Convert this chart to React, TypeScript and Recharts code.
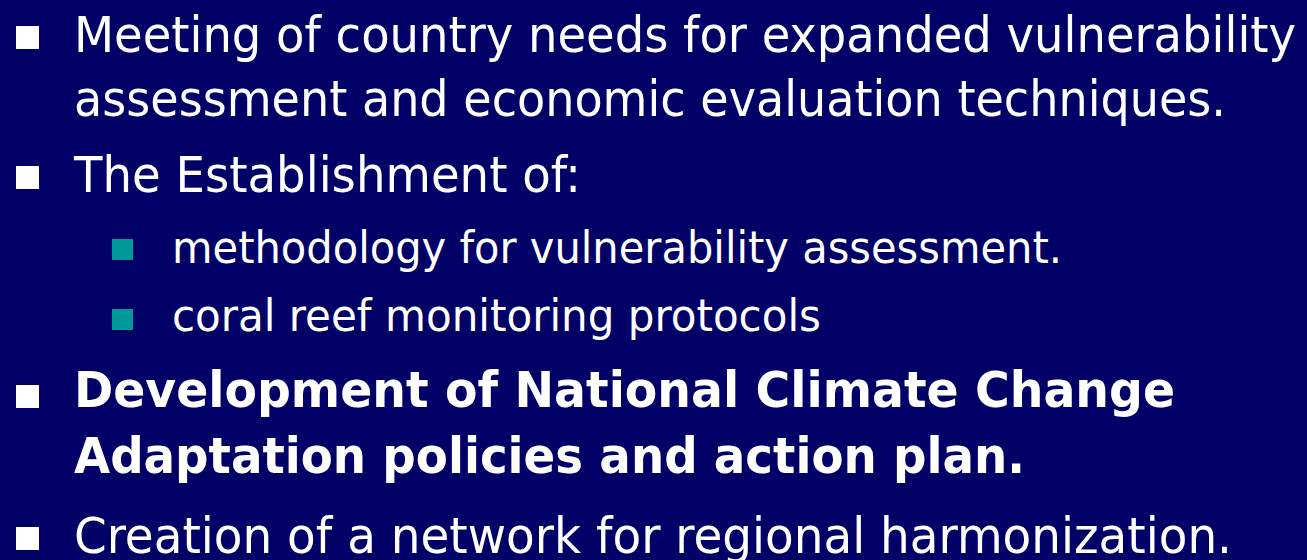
import React from 'react';
import { Surface, Layer, Rectangle } from 'recharts';

// slide content
const topItems = [
  ['Meeting of country needs for expanded vulnerability', 'assessment and economic evaluation techniques.'],
  ['The Establishment of:'],
];
const subItems = ['methodology for vulnerability assessment.', 'coral reef monitoring protocols'];
const boldItem = ['Development of National Climate Change', 'Adaptation policies and action plan.'];
const lastItem = ['Creation of a network for regional harmonization.'];

// layout
const W = 1307;
const H = 560;
const BG = '#000066';
const TEAL = '#009999';
const FONT = '"DejaVu Sans Condensed", "DejaVu Sans", Verdana, sans-serif';

type Line = { text: string; x: number; y: number; len: number; size: number; bold?: boolean };
type Bullet = { x: number; y: number; s: number; fill: string };

const lines: Line[] = [
  { text: topItems[0][0], x: 74, y: 52, len: 1222, size: 50 },
  { text: topItems[0][1], x: 74, y: 116, len: 1152, size: 50 },
  { text: topItems[1][0], x: 74, y: 192, len: 507, size: 50 },
  { text: subItems[0], x: 172, y: 263, len: 890, size: 44 },
  { text: subItems[1], x: 172, y: 331, len: 649, size: 44 },
  { text: boldItem[0], x: 74, y: 407, len: 1101, size: 49, bold: true },
  { text: boldItem[1], x: 74, y: 473, len: 951, size: 49, bold: true },
  { text: lastItem[0], x: 74, y: 553, len: 1158, size: 50 },
];

const bullets: Bullet[] = [
  { x: 16, y: 26, s: 23, fill: '#ffffff' },
  { x: 16, y: 166, s: 23, fill: '#ffffff' },
  { x: 112, y: 239, s: 21, fill: TEAL },
  { x: 112, y: 309, s: 21, fill: TEAL },
  { x: 16, y: 385, s: 23, fill: '#ffffff' },
  { x: 16, y: 527, s: 23, fill: '#ffffff' },
];

export default function App() {
  return (
    <div style={{ position: 'fixed', left: 0, top: 0, width: W, height: H, background: BG }}>
      <Surface width={W} height={H}>
        <rect x={0} y={0} width={W} height={H} fill={BG} />
        <Layer className="bullets">
          {bullets.map((b, i) => (
            <Rectangle key={i} x={b.x} y={b.y} width={b.s} height={b.s} fill={b.fill} isAnimationActive={false} />
          ))}
        </Layer>
        <Layer className="lines">
          {lines.map((l, i) => (
            <text
              key={i}
              x={l.x}
              y={l.y}
              fill="#ffffff"
              fontFamily={FONT}
              fontStretch="condensed"
              fontSize={l.size}
              fontWeight={l.bold ? 700 : 400}
              textLength={l.len}
              lengthAdjust="spacingAndGlyphs"
            >
              {l.text}
            </text>
          ))}
        </Layer>
      </Surface>
    </div>
  );
}
